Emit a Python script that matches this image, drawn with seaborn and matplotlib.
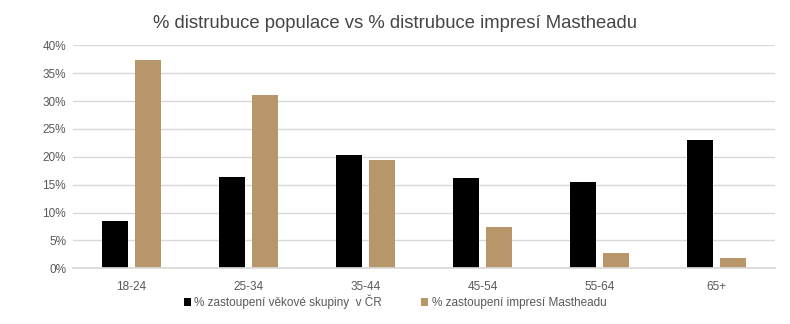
import matplotlib
matplotlib.use("Agg")
import matplotlib.pyplot as plt
import seaborn as sns
import pandas as pd
from matplotlib.ticker import FuncFormatter, MultipleLocator

categories = ["18-24", "25-34", "35-44", "45-54", "55-64", "65+"]
population = [8.5, 16.4, 20.3, 16.2, 15.5, 23.0]
impressions = [37.4, 31.1, 19.4, 7.4, 2.7, 1.8]
series_names = ["% zastoupení věkové skupiny  v ČR", "% zastoupení impresí Mastheadu"]
title = "% distrubuce populace vs % distrubuce impresí Mastheadu"

df = pd.DataFrame({
    "cat": categories * 2,
    "val": population + impressions,
    "series": [series_names[0]] * len(categories) + [series_names[1]] * len(categories),
})

sns.set_theme(style="white")
plt.rcParams["font.family"] = ["Liberation Sans", "DejaVu Sans"]

fig = plt.figure(figsize=(7.9, 3.24), dpi=100)
ax = fig.add_axes([0.0924, 0.172, 0.889, 0.688])
palette = {series_names[0]: "#000000", series_names[1]: "#B79669"}
sns.barplot(data=df, x="cat", y="val", hue="series", palette=palette,
            width=0.565, gap=0.21, ax=ax, saturation=1, legend=True, linewidth=0)

ax.set_ylim(0, 40)
ax.set_xlim(-0.5, 5.5)
ax.yaxis.set_major_locator(MultipleLocator(5))
ax.yaxis.set_major_formatter(FuncFormatter(lambda v, p: f"{int(v)}%"))
ax.grid(axis="y", color="#d9d9d9", linewidth=1)
ax.set_axisbelow(True)
for s in ["top", "right", "left"]:
    ax.spines[s].set_visible(False)
ax.spines["bottom"].set_color("#d9d9d9")
ax.tick_params(axis="both", colors="#595959", labelsize=8.5, length=0)
ax.tick_params(axis="x", pad=9)
ax.tick_params(axis="y", pad=5)
ax.set_xlabel("")
ax.set_ylabel("")

fig.suptitle(title, x=0.5, y=0.955, fontsize=13.3, color="#454545")

handles, labels = ax.get_legend_handles_labels()
ax.legend_.remove()
fig.legend(handles, labels, loc="center", bbox_to_anchor=(0.5, 0.068), ncol=2,
           frameon=False, fontsize=8.5, labelcolor="#595959",
           handlelength=0.6, handleheight=0.6, handletextpad=0.3, columnspacing=3.3)

fig.savefig("out.png", dpi=100)
